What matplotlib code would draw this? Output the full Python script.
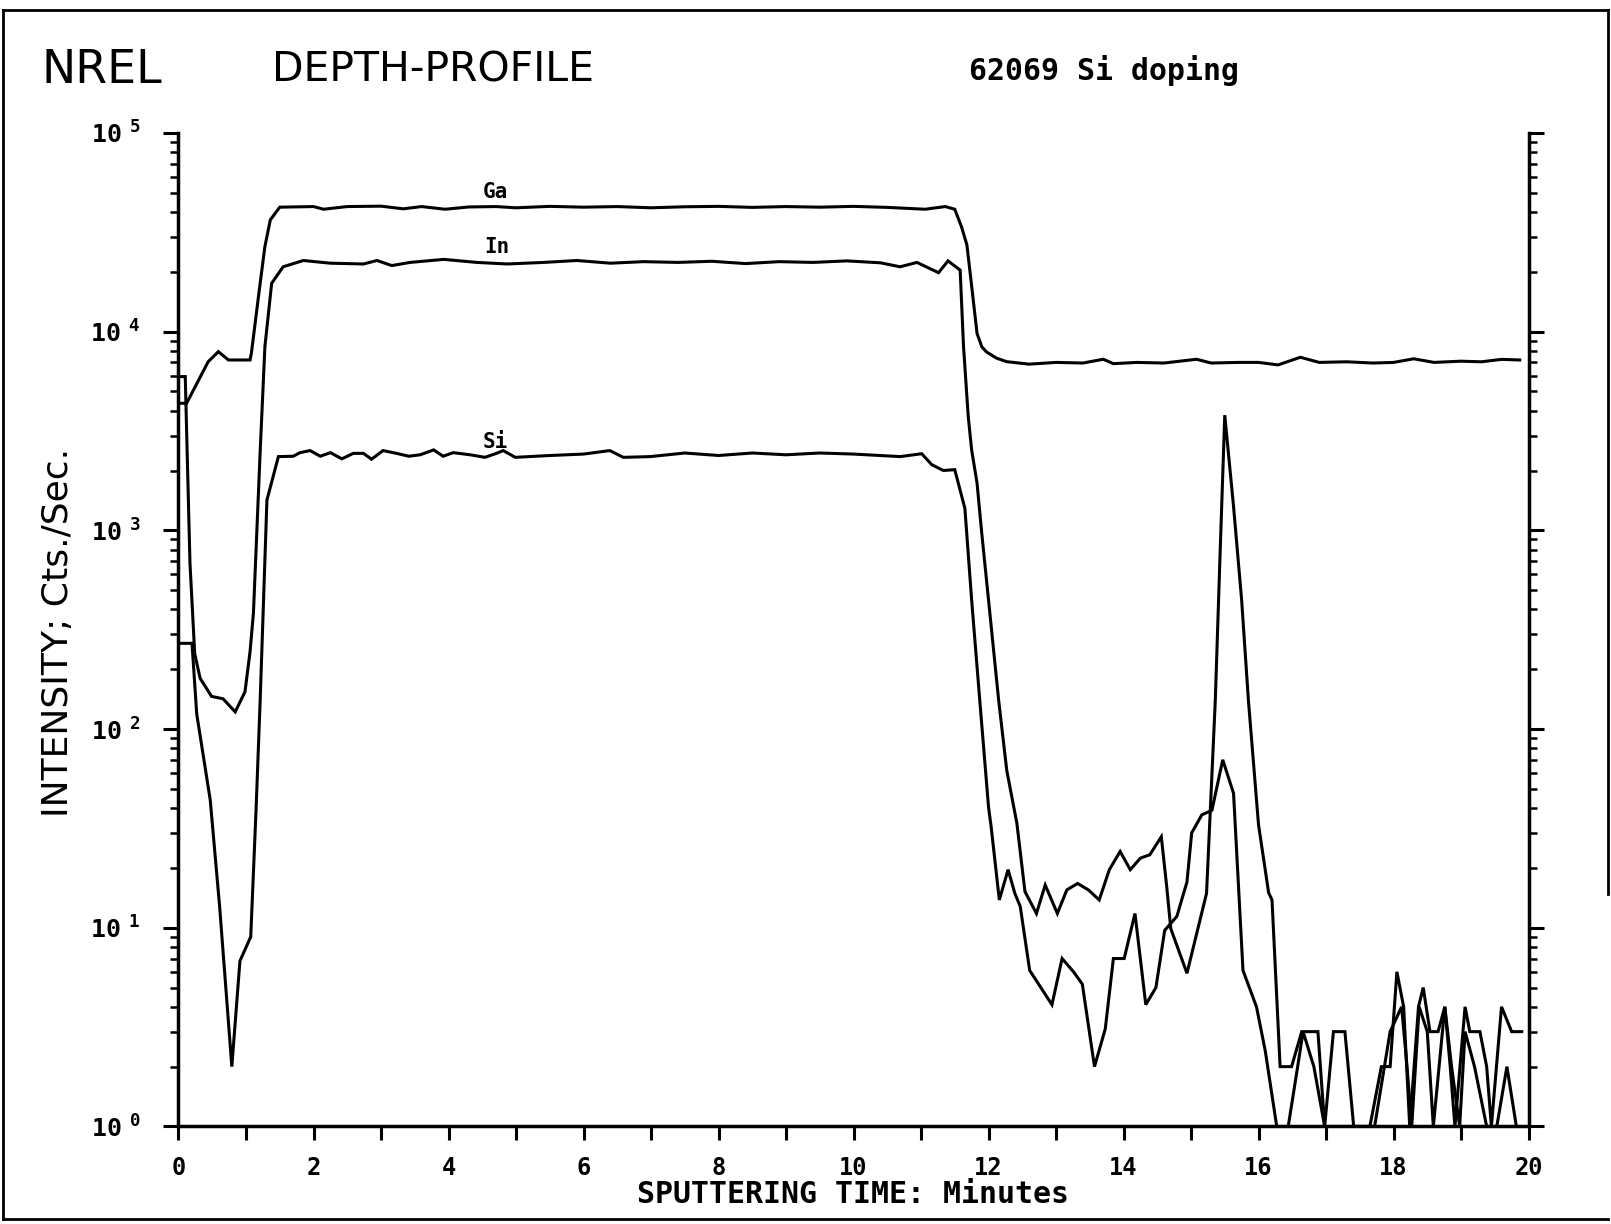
import numpy as np
import matplotlib.pyplot as plt
from matplotlib.lines import Line2D
from matplotlib.ticker import NullFormatter

# values (time in minutes, counts per second)
ga_t = [0.0, 0.12, 0.44, 0.59, 0.74, 1.06, 1.08, 1.20, 1.28, 1.36, 1.50, 2.0, 2.15, 2.5, 3.0, 3.33, 3.6, 3.95,
        4.3, 4.7, 5.0, 5.5, 6.0, 6.5, 7.0, 7.5, 8.0, 8.5, 9.0, 9.5, 10.0, 10.5, 11.06, 11.36, 11.50, 11.60,
        11.68, 11.75, 11.83, 11.90, 11.97, 12.12, 12.27, 12.45, 12.6, 13.0, 13.4, 13.7, 13.85, 14.2, 14.6,
        15.08, 15.3, 15.7, 16.0, 16.29, 16.62, 16.9, 17.3, 17.7, 18.0, 18.3, 18.6, 19.0, 19.3, 19.6, 19.87]
ga_c = [4360, 4360, 7060, 7930, 7200, 7200, 7800, 16500, 26800, 36500, 42300, 42600, 41300, 42600, 42800, 41500,
        42600, 41300, 42400, 42600, 42000, 42700, 42300, 42600, 42000, 42500, 42700, 42200, 42600, 42300, 42700,
        42200, 41300, 42600, 41300, 33700, 27300, 17000, 9800, 8400, 7900, 7350, 7060, 6950, 6860, 7000, 6950,
        7260, 6900, 7000, 6950, 7260, 6950, 7000, 7000, 6800, 7430, 7000, 7050, 6950, 7000, 7300, 7000, 7100,
        7050, 7250, 7200]

in_t = [0.0, 0.1, 0.17, 0.24, 0.32, 0.49, 0.66, 0.84, 0.985, 1.06, 1.11, 1.21, 1.28, 1.38, 1.55, 1.85, 2.25,
        2.74, 2.94, 3.16, 3.43, 3.93, 4.42, 4.87, 5.41, 5.90, 6.40, 6.89, 7.4, 7.9, 8.4, 8.9, 9.4, 9.9, 10.4,
        10.69, 10.94, 11.26, 11.40, 11.58, 11.63, 11.70, 11.75, 11.83, 11.90, 12.0, 12.15, 12.27, 12.42, 12.54,
        12.71, 12.84, 13.02, 13.16, 13.32, 13.48, 13.64, 13.79, 13.95, 14.10, 14.25, 14.39, 14.56, 14.64, 14.70,
        14.94, 15.23, 15.36, 15.43, 15.50, 15.63, 15.75, 15.85, 16.0, 16.15, 16.20, 16.32, 16.49, 16.64, 16.88,
        16.98, 17.11, 17.28, 17.41, 17.65, 17.82, 17.95, 18.05, 18.15, 18.24, 18.37, 18.44, 18.54, 18.66, 18.76,
        18.84, 18.91, 19.06, 19.13, 19.28, 19.38, 19.45, 19.60, 19.75, 19.90]
in_c = [5940, 5940, 683, 240, 180, 146, 142, 122, 154, 245, 383, 2500, 8400, 17500, 21200, 22800, 22100, 21900,
        22800, 21500, 22300, 23100, 22300, 21900, 22300, 22800, 22100, 22500, 22300, 22600, 22000, 22500, 22300,
        22700, 22200, 21200, 22300, 19800, 22700, 20400, 8400, 3730, 2540, 1730, 966, 447, 140, 62, 33.6, 15.2,
        11.8, 16.4, 11.8, 15.5, 16.7, 15.5, 13.8, 19.6, 24.2, 19.6, 22.4, 23.3, 28.7, 16.1, 9.9, 5.9, 14.9, 140,
        750, 3800, 1320, 446, 140, 33, 15, 13.8, 2, 2, 3, 3, 1, 3, 3, 1, 1, 2, 2, 6, 4, 1, 4, 5, 3, 3, 4, 2, 1,
        4, 3, 3, 2, 1, 4, 3, 3]

si_t = [0.0, 0.2, 0.27, 0.47, 0.61, 0.79, 0.91, 1.07, 1.15, 1.21, 1.31, 1.48, 1.70, 1.80, 1.95, 2.10, 2.25,
        2.42, 2.59, 2.74, 2.86, 3.03, 3.23, 3.41, 3.58, 3.78, 3.92, 4.07, 4.32, 4.54, 4.71, 4.81, 4.99, 5.5, 6.0,
        6.39, 6.59, 6.99, 7.5, 8.0, 8.5, 9.0, 9.5, 10.0, 10.69, 11.01, 11.16, 11.33, 11.50, 11.65, 11.75, 11.87,
        12.0, 12.04, 12.16, 12.29, 12.39, 12.47, 12.61, 12.94, 13.09, 13.26, 13.39, 13.57, 13.73, 13.85, 14.01,
        14.17, 14.33, 14.48, 14.61, 14.79, 14.94, 15.01, 15.16, 15.31, 15.47, 15.63, 15.77, 15.97, 16.10, 16.27,
        16.44, 16.58, 16.66, 16.82, 16.98, 17.72, 17.95, 18.12, 18.20, 18.27, 18.38, 18.50, 18.59, 18.76, 18.86,
        18.98, 19.06, 19.20, 19.38, 19.53, 19.68, 19.82]
si_c = [270, 270, 119, 44, 12.7, 2.0, 6.8, 9.0, 40, 140, 1420, 2350, 2360, 2460, 2520, 2360, 2460, 2290, 2440,
        2440, 2280, 2520, 2440, 2360, 2400, 2540, 2360, 2460, 2400, 2330, 2440, 2520, 2330, 2380, 2420, 2520,
        2330, 2350, 2450, 2380, 2450, 2400, 2450, 2420, 2350, 2430, 2140, 2000, 2020, 1290, 447, 140, 40.6, 32,
        13.8, 19.6, 14.9, 12.8, 6.1, 4.1, 7.0, 6.0, 5.2, 2.0, 3.1, 7.0, 7.0, 11.8, 4.1, 5.0, 9.7, 11.4, 17, 30,
        37, 39, 70, 47.5, 6.1, 4.0, 2.4, 1, 1, 2, 3, 2, 1, 1, 3, 4, 2, 1, 4, 3, 1, 4, 2, 1, 3, 2, 1, 1, 2, 1]

series_names = ["Ga", "In", "Si"]
name_pos_t = [4.69, 4.71, 4.69]
name_pos_c = [50400, 26800, 2790]

x_major = [0, 2, 4, 6, 8, 10, 12, 14, 16, 18, 20]
x_labels = ["0", "2", "4", "6", "8", "10", "12", "14", "16", "18", "20"]
y_major = [1, 10, 100, 1000, 10000, 100000]
y_exp = ["0", "1", "2", "3", "4", "5"]

plt.rcParams['mathtext.fontset'] = 'custom'
plt.rcParams['mathtext.bf'] = 'DejaVu Sans Mono:bold'
plt.rcParams['mathtext.rm'] = 'DejaVu Sans Mono'

fig = plt.figure(figsize=(16.11, 12.24), dpi=100)
ax = fig.add_axes([0.1108, 0.0797, 0.8380, 0.8117])

for t, c in ((ga_t, ga_c), (in_t, in_c), (si_t, si_c)):
    ax.plot(t, c, color='black', lw=2.2, solid_joinstyle='miter')

for name, t, c in zip(series_names, name_pos_t, name_pos_c):
    ax.text(t, c, name, ha='center', va='center', fontsize=15, fontweight='bold',
            family='DejaVu Sans Mono')

ax.set_yscale('log')
ax.set_xlim(0, 20)
ax.set_ylim(1, 1e5)

ax.set_xticks(x_major)
ax.set_xticks(np.arange(1, 20, 2), minor=True)
ax.set_xticklabels(x_labels)
ax.set_yticks(y_major)
ax.set_yticklabels([r'$\mathbf{10^{\ \,' + e + '}}$' for e in y_exp])
ax.yaxis.set_minor_formatter(NullFormatter())

ax.tick_params(axis='x', which='both', direction='out', length=10, width=2.2,
               labelsize=17, pad=11)
ax.tick_params(axis='y', which='major', direction='out', length=11, width=2.2,
               left=True, right=True, labelsize=18, pad=16)
ax.tick_params(axis='y', which='minor', direction='out', length=6, width=1.8,
               left=True, right=True)
for lbl in ax.get_xticklabels():
    lbl.set_fontfamily('DejaVu Sans Mono')
    lbl.set_fontweight('bold')

ax.spines['top'].set_visible(False)
for s in ['left', 'right', 'bottom']:
    ax.spines[s].set_linewidth(2.5)

# headings and axis titles
fig.text(0.0255, 0.9428, "NREL", ha='left', va='center', fontsize=33,
         family='DejaVu Sans')
fig.text(0.1688, 0.9428, "DEPTH-PROFILE", ha='left', va='center', fontsize=29.5,
         family='DejaVu Sans')
fig.text(0.6015, 0.9428, "62069 Si doping", ha='left', va='center', fontsize=21.5,
         family='DejaVu Sans Mono', fontweight='bold')
fig.text(0.036, 0.4837, "INTENSITY; Cts./Sec.", ha='center', va='center', rotation=90,
         fontsize=26, family='DejaVu Sans')
fig.text(0.5295, 0.0237, "SPUTTERING TIME: Minutes", ha='center', va='center',
         fontsize=21.5, family='DejaVu Sans Mono', fontweight='bold')

# frame drawn round the sheet
for xs, ys in (([0.002, 0.002], [0.004, 0.992]),
               ([0.002, 0.998], [0.992, 0.992]),
               ([0.002, 0.998], [0.004, 0.004]),
               ([0.998, 0.998], [0.27, 0.992])):
    fig.add_artist(Line2D(xs, ys, transform=fig.transFigure, color='black', lw=2))

fig.savefig("out.png", dpi=100, facecolor='white')
